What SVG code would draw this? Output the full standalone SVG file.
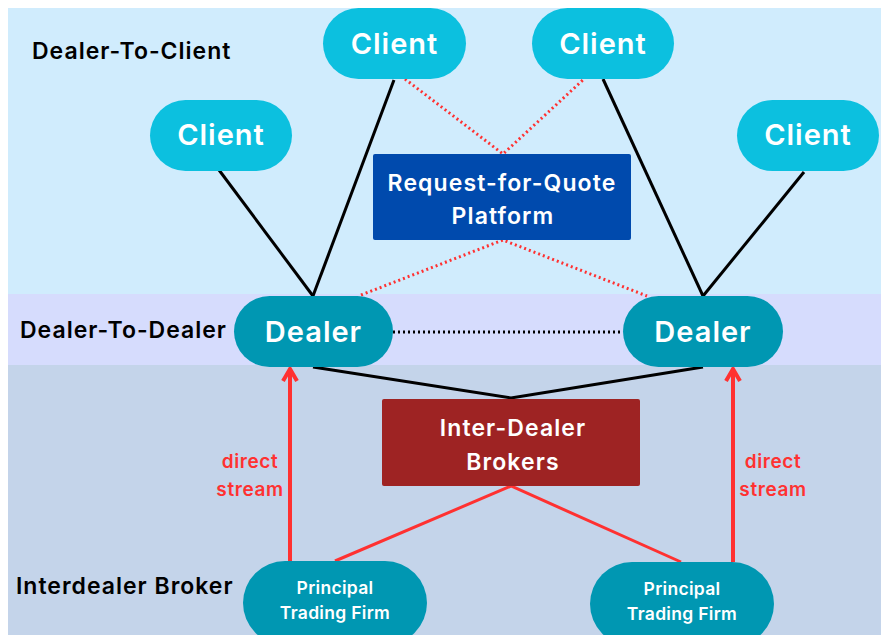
<svg xmlns="http://www.w3.org/2000/svg" width="881" height="635" viewBox="0 0 881 635">
  <defs>
    <style>
      text { font-family: Inter, "Noto Sans", "DejaVu Sans", sans-serif; }
      .band-label { font-size: 23px; font-weight: 600; fill: #000000; letter-spacing: 1px; }
      .pill-lg { font-size: 29px; font-weight: 600; fill: #FFFFFF; text-anchor: middle; letter-spacing: 1px; }
      .box-txt { font-size: 23px; font-weight: 600; fill: #FFFFFF; text-anchor: middle; letter-spacing: 1.1px; }
      .ptf-txt { font-size: 17.5px; font-weight: 600; fill: #FFFFFF; text-anchor: middle; letter-spacing: 0.3px; }
      .stream-txt { font-size: 19px; font-weight: 600; fill: #FF3131; text-anchor: middle; letter-spacing: 0.6px; }
      .client { fill: #0CC0DF; }
      .dealer { fill: #0097B2; }
      .solid { stroke: #000000; stroke-width: 3; fill: none; }
      .red-dot { stroke: #FF3131; stroke-width: 3; stroke-dasharray: 2 3; fill: none; }
      .black-dot { stroke: #000000; stroke-width: 3; stroke-dasharray: 2 3; fill: none; }
      .red-solid { stroke: #FF3131; stroke-width: 3; fill: none; }
      .red-arrow { stroke: #FF3131; stroke-width: 4; fill: none; }
    </style>
  </defs>

  <!-- background bands -->
  <rect x="0" y="0" width="881" height="635" fill="#FFFFFF"/>
  <rect x="8" y="8" width="873" height="286" fill="#D0ECFD"/>
  <rect x="8" y="294" width="873" height="71" fill="#D6DCFD"/>
  <rect x="8" y="365" width="873" height="270" fill="#C4D4EA"/>

  <!-- band labels -->
  <text class="band-label" x="32" y="59">Dealer-To-Client</text>
  <text class="band-label" x="20" y="338">Dealer-To-Dealer</text>
  <text class="band-label" x="16" y="594">Interdealer Broker</text>

  <!-- connectors -->
  <g id="connectors">
    <line class="solid" x1="216" y1="166" x2="313" y2="296"/>
    <line class="solid" x1="394" y1="80" x2="313" y2="296"/>
    <line class="solid" x1="603" y1="79" x2="703" y2="296"/>
    <line class="solid" x1="804" y1="172" x2="703" y2="296"/>
    <polyline class="red-dot" points="405,79 503,154 584,79"/>
    <polyline class="red-dot" points="361,295 503,240 647,296"/>
    <line class="black-dot" x1="393" y1="332" x2="623" y2="332"/>
    <polyline class="solid" points="313,367 511,398 703,367"/>
    <polyline class="red-solid" points="335,561 511,486 681,562"/>
    <line class="red-arrow" x1="290" y1="561" x2="290" y2="370"/>
    <polyline class="red-arrow" points="283,381 290,369 297,381"/>
    <line class="red-arrow" x1="733" y1="562" x2="733" y2="370"/>
    <polyline class="red-arrow" points="726,381 733,369 740,381"/>
    <text class="stream-txt" x="250" y="468">direct</text>
    <text class="stream-txt" x="250" y="496">stream</text>
    <text class="stream-txt" x="773" y="468">direct</text>
    <text class="stream-txt" x="773" y="496">stream</text>
  </g>

  <!-- clients -->
  <g id="client-top-left">
    <rect class="client" x="323" y="8" width="143" height="71" rx="35.5"/>
    <text class="pill-lg" x="394.5" y="54">Client</text>
  </g>
  <g id="client-top-right">
    <rect class="client" x="532" y="8" width="142" height="71" rx="35.5"/>
    <text class="pill-lg" x="603" y="54">Client</text>
  </g>
  <g id="client-left">
    <rect class="client" x="150" y="100" width="142" height="71" rx="35.5"/>
    <text class="pill-lg" x="221" y="145">Client</text>
  </g>
  <g id="client-right">
    <rect class="client" x="737" y="100" width="142" height="71" rx="35.5"/>
    <text class="pill-lg" x="808" y="145">Client</text>
  </g>

  <!-- request-for-quote platform -->
  <g id="rfq-platform">
    <rect x="373" y="154" width="258" height="86" rx="2" fill="#004AAD"/>
    <text class="box-txt" x="502" y="191">Request-for-Quote</text>
    <text class="box-txt" x="503" y="224">Platform</text>
  </g>

  <!-- dealers -->
  <g id="dealer-left">
    <rect class="dealer" x="234" y="296" width="159" height="71" rx="35.5"/>
    <text class="pill-lg" x="313.5" y="342">Dealer</text>
  </g>
  <g id="dealer-right">
    <rect class="dealer" x="623" y="296" width="160" height="71" rx="35.5"/>
    <text class="pill-lg" x="703" y="342">Dealer</text>
  </g>

  <!-- inter-dealer brokers -->
  <g id="inter-dealer-brokers">
    <rect x="382" y="399" width="258" height="87" rx="2" fill="#9E2323"/>
    <text class="box-txt" x="513" y="436">Inter-Dealer</text>
    <text class="box-txt" x="513" y="470">Brokers</text>
  </g>

  <!-- principal trading firms -->
  <g id="ptf-left">
    <rect class="dealer" x="243" y="561" width="184" height="84" rx="42"/>
    <text class="ptf-txt" x="335" y="594">Principal</text>
    <text class="ptf-txt" x="335" y="619">Trading Firm</text>
  </g>
  <g id="ptf-right">
    <rect class="dealer" x="590" y="562" width="184" height="84" rx="42"/>
    <text class="ptf-txt" x="682" y="595">Principal</text>
    <text class="ptf-txt" x="682" y="620">Trading Firm</text>
  </g>
</svg>
